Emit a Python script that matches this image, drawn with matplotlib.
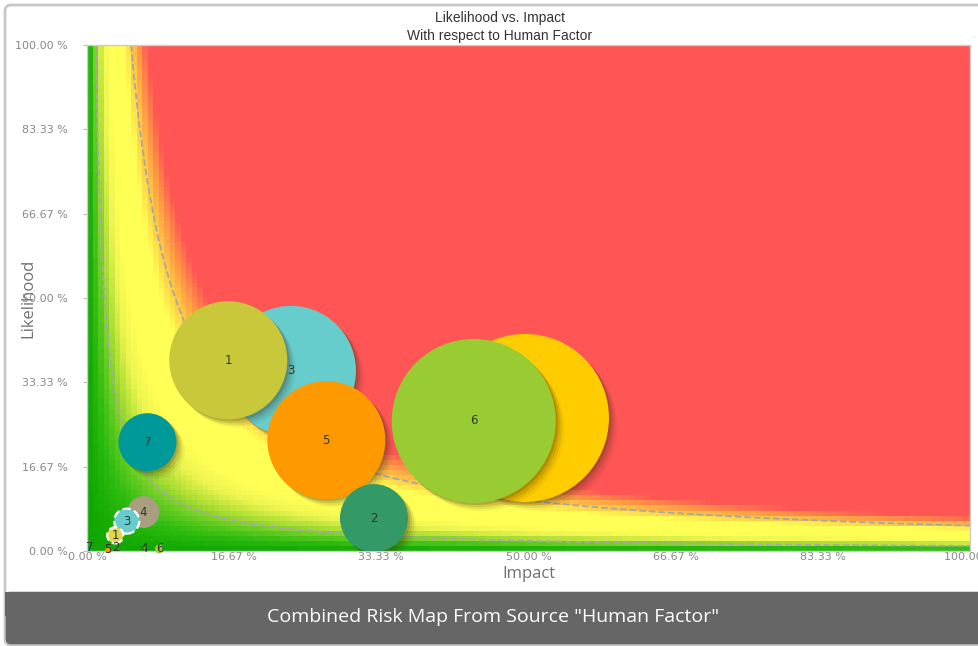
import numpy as np
import matplotlib.pyplot as plt
import matplotlib.patheffects as pe
from matplotlib.colors import LinearSegmentedColormap, Normalize
from matplotlib.patches import FancyBboxPatch, Rectangle

# main bubbles (drawn largest first so smaller ones sit on top)
big_labels = ['4', '6', '3', '1', '5', '2', '7']
big_impact = [0.496, 0.438, 0.231, 0.160, 0.271, 0.325, 0.0685]
big_likelihood = [0.263, 0.257, 0.356, 0.377, 0.219, 0.065, 0.215]
big_size = [14630, 13940, 8760, 7220, 7220, 2400, 1745]
big_colors = ['#FFCC00', '#99CC33', '#66CCCC', '#C8C83A', '#FF9900', '#339966', '#009999']

# residual bubbles near the origin
small_labels = ['4', '3', '1', '6', '5', '2', '7', '4']
small_impact = [0.064, 0.045, 0.032, 0.082, 0.024, 0.033, 0.003, 0.065]
small_likelihood = [0.077, 0.059, 0.031, 0.004, 0.002, 0.006, 0.006, 0.004]
small_size = [530, 325, 135, 42, 19, 6, 6, 6]
small_colors = ['#A89E80', '#66CCCC', '#E0D84A', '#99CC33', '#FF9900', '#339966', '#009999', '#A89E80']
small_dashed = [False, True, True, False, False, False, False, False]

tick_values = [0, 1/6, 2/6, 3/6, 4/6, 5/6, 1]

# risk zones on impact x likelihood
zone_stops = [0.0, 0.004, 0.008, 0.012, 0.018, 0.024, 0.042, 0.050, 0.058, 0.068, 0.1]
zone_colors = ['#10A800', '#2DBB10', '#66CC22', '#AADD33', '#EEF550', '#FFFF55',
               '#FFFF55', '#FFCC44', '#FF9944', '#FF5555', '#FF5555']
contour_levels = [0.01, 0.05]

W, H = 979, 646
fig = plt.figure(figsize=(W / 100, H / 100), dpi=100)

# outer card and footer banner
card = FancyBboxPatch((0.05, 0.01), 9.9, 6.40, boxstyle="round,pad=0,rounding_size=0.06",
                      transform=fig.dpi_scale_trans, facecolor='white',
                      edgecolor='#C8C8C8', linewidth=2, zorder=-10)
fig.patches.append(card)
banner = FancyBboxPatch((0.05, 0.01), 9.9, 0.53, boxstyle="round,pad=0,rounding_size=0.06",
                        transform=fig.dpi_scale_trans, facecolor='#666666',
                        edgecolor='#C8C8C8', linewidth=1, zorder=-9)
fig.patches.append(banner)
fig.patches.append(Rectangle((0.05, 0.30), 9.9, 0.24, transform=fig.dpi_scale_trans,
                             facecolor='#666666', edgecolor='none', zorder=-9))
fig.text(493 / W, (H - 617) / H, 'Combined Risk Map From Source "Human Factor"',
         ha='center', va='center', color='white', fontsize=14, family='Open Sans')

ax = fig.add_axes([87 / W, (H - 551) / H, 883 / W, 506 / H])
ax.set_zorder(5)

# background risk surface
cmap = LinearSegmentedColormap.from_list(
    'risk', [(s / zone_stops[-1], c) for s, c in zip(zone_stops, zone_colors)])
nx, ny = 160, 100
xc = (np.arange(nx) + 0.5) / nx
yc = (np.arange(ny) + 0.5) / ny
risk = np.outer(yc, xc)
ax.imshow(risk, extent=(0, 1, 0, 1), origin='lower', aspect='auto', cmap=cmap,
          norm=Normalize(0, zone_stops[-1]), interpolation='nearest', zorder=0)

xf = np.linspace(0.001, 1, 600)
yf = np.linspace(0.001, 1, 600)
XF, YF = np.meshgrid(xf, yf)
ax.contour(XF, YF, XF * YF, levels=contour_levels, colors='#A8A8A8',
           linewidths=1.3, linestyles='--', zorder=1)

shadow = [pe.SimplePatchShadow(offset=(1.5, -1.5), shadow_rgbFace='#3A2A10', alpha=0.18),
          pe.SimplePatchShadow(offset=(3, -3), shadow_rgbFace='#3A2A10', alpha=0.13),
          pe.SimplePatchShadow(offset=(4.5, -4.5), shadow_rgbFace='#3A2A10', alpha=0.09),
          pe.SimplePatchShadow(offset=(6, -6), shadow_rgbFace='#3A2A10', alpha=0.05),
          pe.Normal()]

z = 3
for lab, x, y, s, c in zip(big_labels, big_impact, big_likelihood, big_size, big_colors):
    sc = ax.scatter([x], [y], s=s, color=c, edgecolors='none', zorder=z)
    sc.set_path_effects(shadow)
    ax.text(x, y, lab, ha='center', va='center', fontsize=8.5, color='#333333', zorder=z + 0.5)
    z += 1

for lab, x, y, s, c, d in zip(small_labels, small_impact, small_likelihood,
                              small_size, small_colors, small_dashed):
    if d:
        ax.scatter([x], [y], s=s, color=c, edgecolors='white', linewidths=1.6,
                   linestyle='--', zorder=z, clip_on=False)
    else:
        ax.scatter([x], [y], s=s, color=c, edgecolors='none', zorder=z, clip_on=False)
    ax.text(x, y, lab, ha='center', va='center', fontsize=8.5, color='#333333',
            zorder=z + 0.5, clip_on=False)
    z += 1

ax.set_xlim(0, 1)
ax.set_ylim(0, 1)
ax.set_xticks(tick_values)
ax.set_yticks(tick_values)
ax.set_xticklabels([f'{v * 100:.2f} %' for v in tick_values])
ax.set_yticklabels([f'{v * 100:.2f} %' for v in tick_values])
ax.tick_params(axis='x', length=0, pad=1, labelsize=8, labelcolor='#888888')
ax.tick_params(axis='y', length=3, pad=11, labelsize=8, labelcolor='#888888', color='#BBBBBB')
for sp in ax.spines.values():
    sp.set_color('#CCCCCC')
    sp.set_linewidth(1)

fig.text(500 / W, (H - 18) / H, 'Likelihood vs. Impact', ha='center', va='center',
         fontsize=10, color='#333333', family='Liberation Sans')
fig.text(500 / W, (H - 36) / H, 'With respect to Human Factor', ha='center', va='center',
         fontsize=10, color='#333333', family='Liberation Sans')
fig.text(529 / W, (H - 574) / H, 'Impact', ha='center', va='center',
         fontsize=12, color='#707070', family='Open Sans')
fig.text(28 / W, (H - 298) / H, 'Likelihood', ha='center', va='center', rotation=90,
         fontsize=12, color='#707070', family='Open Sans')

fig.savefig('out.png', dpi=100)
